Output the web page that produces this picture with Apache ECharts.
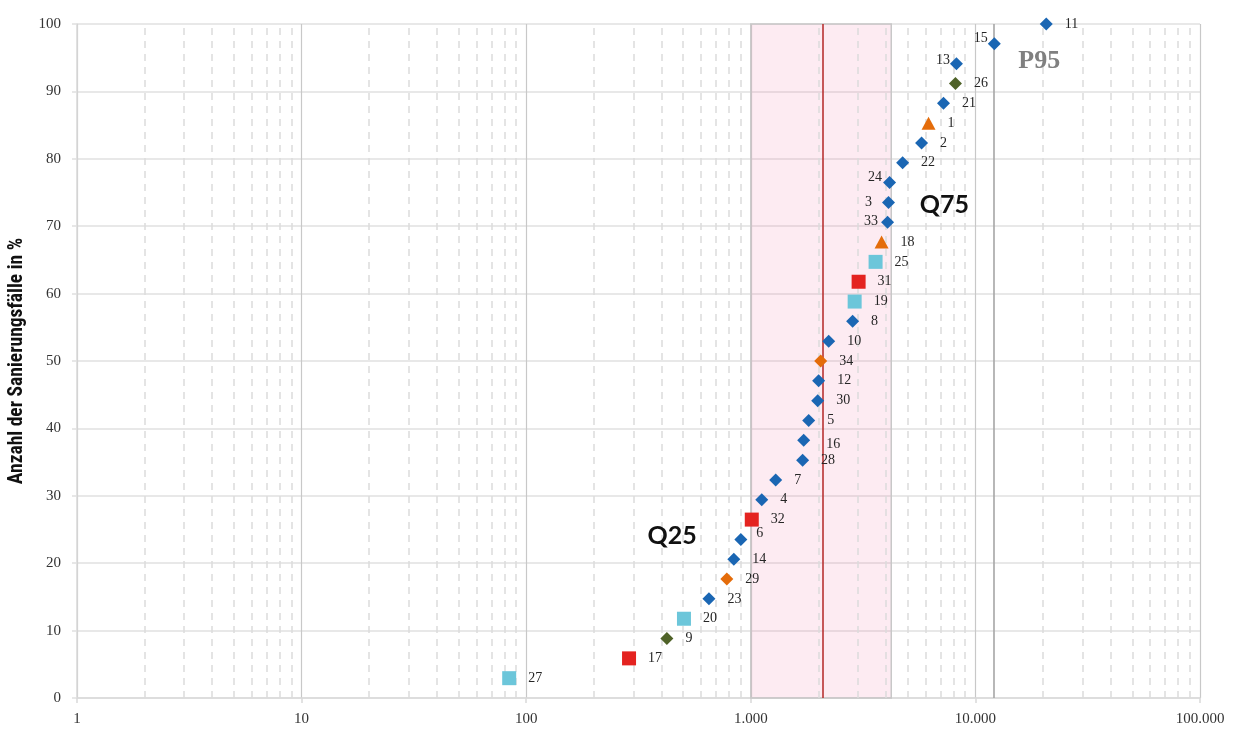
<!DOCTYPE html>
<html><head><meta charset="utf-8">
<script src="https://cdn.jsdelivr.net/npm/echarts@6/dist/echarts.min.js"></script>
<style>html,body{margin:0;padding:0;background:#fff}#c{width:1234px;height:729px}</style>
</head><body><div id="c"></div>
<script>
// ---- data ----
const caseIds = [27,17,9,20,23,29,14,6,32,4,7,28,16,5,30,12,34,10,8,19,31,25,18,33,3,24,22,2,1,21,26,13,15,11];
const costs   = [84,287,423,504,651,782,840,903,1010,1119,1291,1701,1720,1810,1985,2005,2047,2222,2840,2900,3020,3594,3822,4064,4103,4147,4742,5757,6185,7210,8149,8235,12140,20680];
const shares  = [2.94,5.88,8.82,11.76,14.71,17.65,20.59,23.53,26.47,29.41,32.35,35.29,38.24,41.18,44.12,47.06,50.00,52.94,55.88,58.82,61.76,64.71,67.65,70.59,73.53,76.47,79.41,82.35,85.29,88.24,91.18,94.12,97.06,100.00];
const groups  = ['c','r','o','c','b','od','b','b','r','b','b','b','b','b','b','b','od','b','b','c','r','c','t','b','b','b','b','b','t','b','o','b','b','b'];
const xTickLabels = ['1','10','100','1.000','10.000','100.000'];
const q25 = 1000, median = 2083, q75 = 4220, p95 = 12110;
const minorValues = [2,3,4,5,6,7,8,9,20,30,40,50,60,70,80,90,200,300,400,500,600,700,800,900,2000,3000,4000,5000,6000,7000,8000,9000,20000,30000,40000,50000,60000,70000,80000,90000];
const annotations = [
  {text:'Q25', x:446, y:24.1, kind:'q'},
  {text:'Q75', x:7280, y:73.1, kind:'q'},
  {text:'P95', x:19250, y:94.4, kind:'p'}
];

// ---- styles ----
const groupStyle = {
  b:  {symbol:'diamond', size:[13,13], color:'#1a66b3'},
  o:  {symbol:'diamond', size:[13,13], color:'#4f6228'},
  od: {symbol:'diamond', size:[13,13], color:'#e46c0a'},
  t:  {symbol:'triangle', size:[14,13], color:'#e46c0a'},
  c:  {symbol:'rect', size:[14,14], color:'#6cc6da'},
  r:  {symbol:'rect', size:[14,14], color:'#e42320'}
};
const labelOverride = {
  15:{position:'left', distance:0, offset:[0,-5]},
  13:{position:'left', distance:0, offset:[0,-3]},
  24:{position:'left', distance:1, offset:[0,-5]},
  3: {position:'left', distance:10, offset:[0,0]},
  33:{position:'left', distance:3, offset:[0,-1]},
  6: {position:'right', distance:9, offset:[0,-6]},
  16:{position:'right', distance:16, offset:[0,4]}
};
const serif = '"Liberation Serif","DejaVu Serif",serif';

const series = [];
Object.keys(groupStyle).forEach(g => {
  const st = groupStyle[g];
  const data = [];
  caseIds.forEach((id, i) => {
    if (groups[i] !== g) return;
    const item = {value:[costs[i], shares[i], id]};
    if (labelOverride[id]) item.label = labelOverride[id];
    data.push(item);
  });
  series.push({
    type:'scatter', symbol:st.symbol, symbolSize:st.size, z:5,
    itemStyle:{color:st.color, opacity:1},
    label:{show:true, position:'right', distance:12, formatter:p=>String(p.value[2]),
           fontFamily:serif, fontSize:14, color:'#262626'},
    data
  });
});

// background band, lines, minor grid
series.push({
  type:'scatter', data:[], z:1, silent:true,
  markArea:{silent:true, itemStyle:{color:'rgba(236,100,155,0.13)', borderColor:'#c8c8c8', borderWidth:1.5},
    data:[[{xAxis:q25, yAxis:0},{xAxis:q75, yAxis:100}]]},
  markLine:{silent:true, symbol:'none', label:{show:false},
    lineStyle:{color:'#dcdcdc', type:[7,6], width:1.5},
    data: minorValues.map(v=>({xAxis:v}))}
});
series.push({
  type:'scatter', data:[], z:3, silent:true,
  markLine:{silent:true, symbol:'none', label:{show:false}, animation:false,
    data:[
      {xAxis:median, lineStyle:{color:'#b83232', type:'solid', width:1.6}},
      {xAxis:p95, lineStyle:{color:'#a6a6a6', type:'solid', width:1.6}}
    ]}
});
series.push({
  type:'scatter', data:[], z:6, silent:true,
  markPoint:{silent:true, symbol:'circle', symbolSize:1, itemStyle:{color:'rgba(0,0,0,0)'},
    data: annotations.map(a=>({coord:[a.x,a.y], label:{show:true, position:'inside', formatter:a.text,
      fontSize: a.kind==='q'?25:26, fontWeight:'bold',
      fontFamily: a.kind==='q' ? 'Lato, "Open Sans", sans-serif' : serif,
      color: a.kind==='q' ? '#111' : '#808080'}}))}
});

const chart = echarts.init(document.getElementById('c'), null, {renderer:'canvas'});
chart.setOption({
  animation:false,
  backgroundColor:'#fff',
  grid:{left:77, right:34, top:24, bottom:31, containLabel:false, outerBoundsMode:'none'},
  xAxis:{type:'log', logBase:10, min:1, max:100000,
    axisLine:{show:true, lineStyle:{color:'#d9d9d9', width:1.5}},
    axisTick:{show:true, length:5, lineStyle:{color:'#d9d9d9', width:1.5}},
    axisLabel:{margin:14, fontFamily:serif, fontSize:15, color:'#333',
      formatter:v=>{const k=Math.round(Math.log10(v)); return xTickLabels[k]!==undefined?xTickLabels[k]:'';}},
    splitLine:{show:true, lineStyle:{color:'#c8c8c8', width:1.2}},
    minorTick:{show:false}, minorSplitLine:{show:false}},
  yAxis:{type:'value', min:0, max:100, interval:10,
    name:'Anzahl der Sanierungsfälle in %', nameLocation:'middle', nameRotate:90, nameGap:49,
    nameTextStyle:{fontFamily:'"Liberation Sans Narrow","Roboto Condensed","Liberation Sans",sans-serif', fontWeight:'bold', fontSize:19.5, color:'#111'},
    axisLine:{show:true, lineStyle:{color:'#d9d9d9', width:1.5}},
    axisTick:{show:true, length:5, lineStyle:{color:'#e0e0e0', width:1.5}},
    axisLabel:{margin:16, fontFamily:serif, fontSize:15, color:'#333'},
    splitLine:{show:true, lineStyle:{color:'#e0e0e0', width:1.5}}},
  series
});
</script></body></html>
